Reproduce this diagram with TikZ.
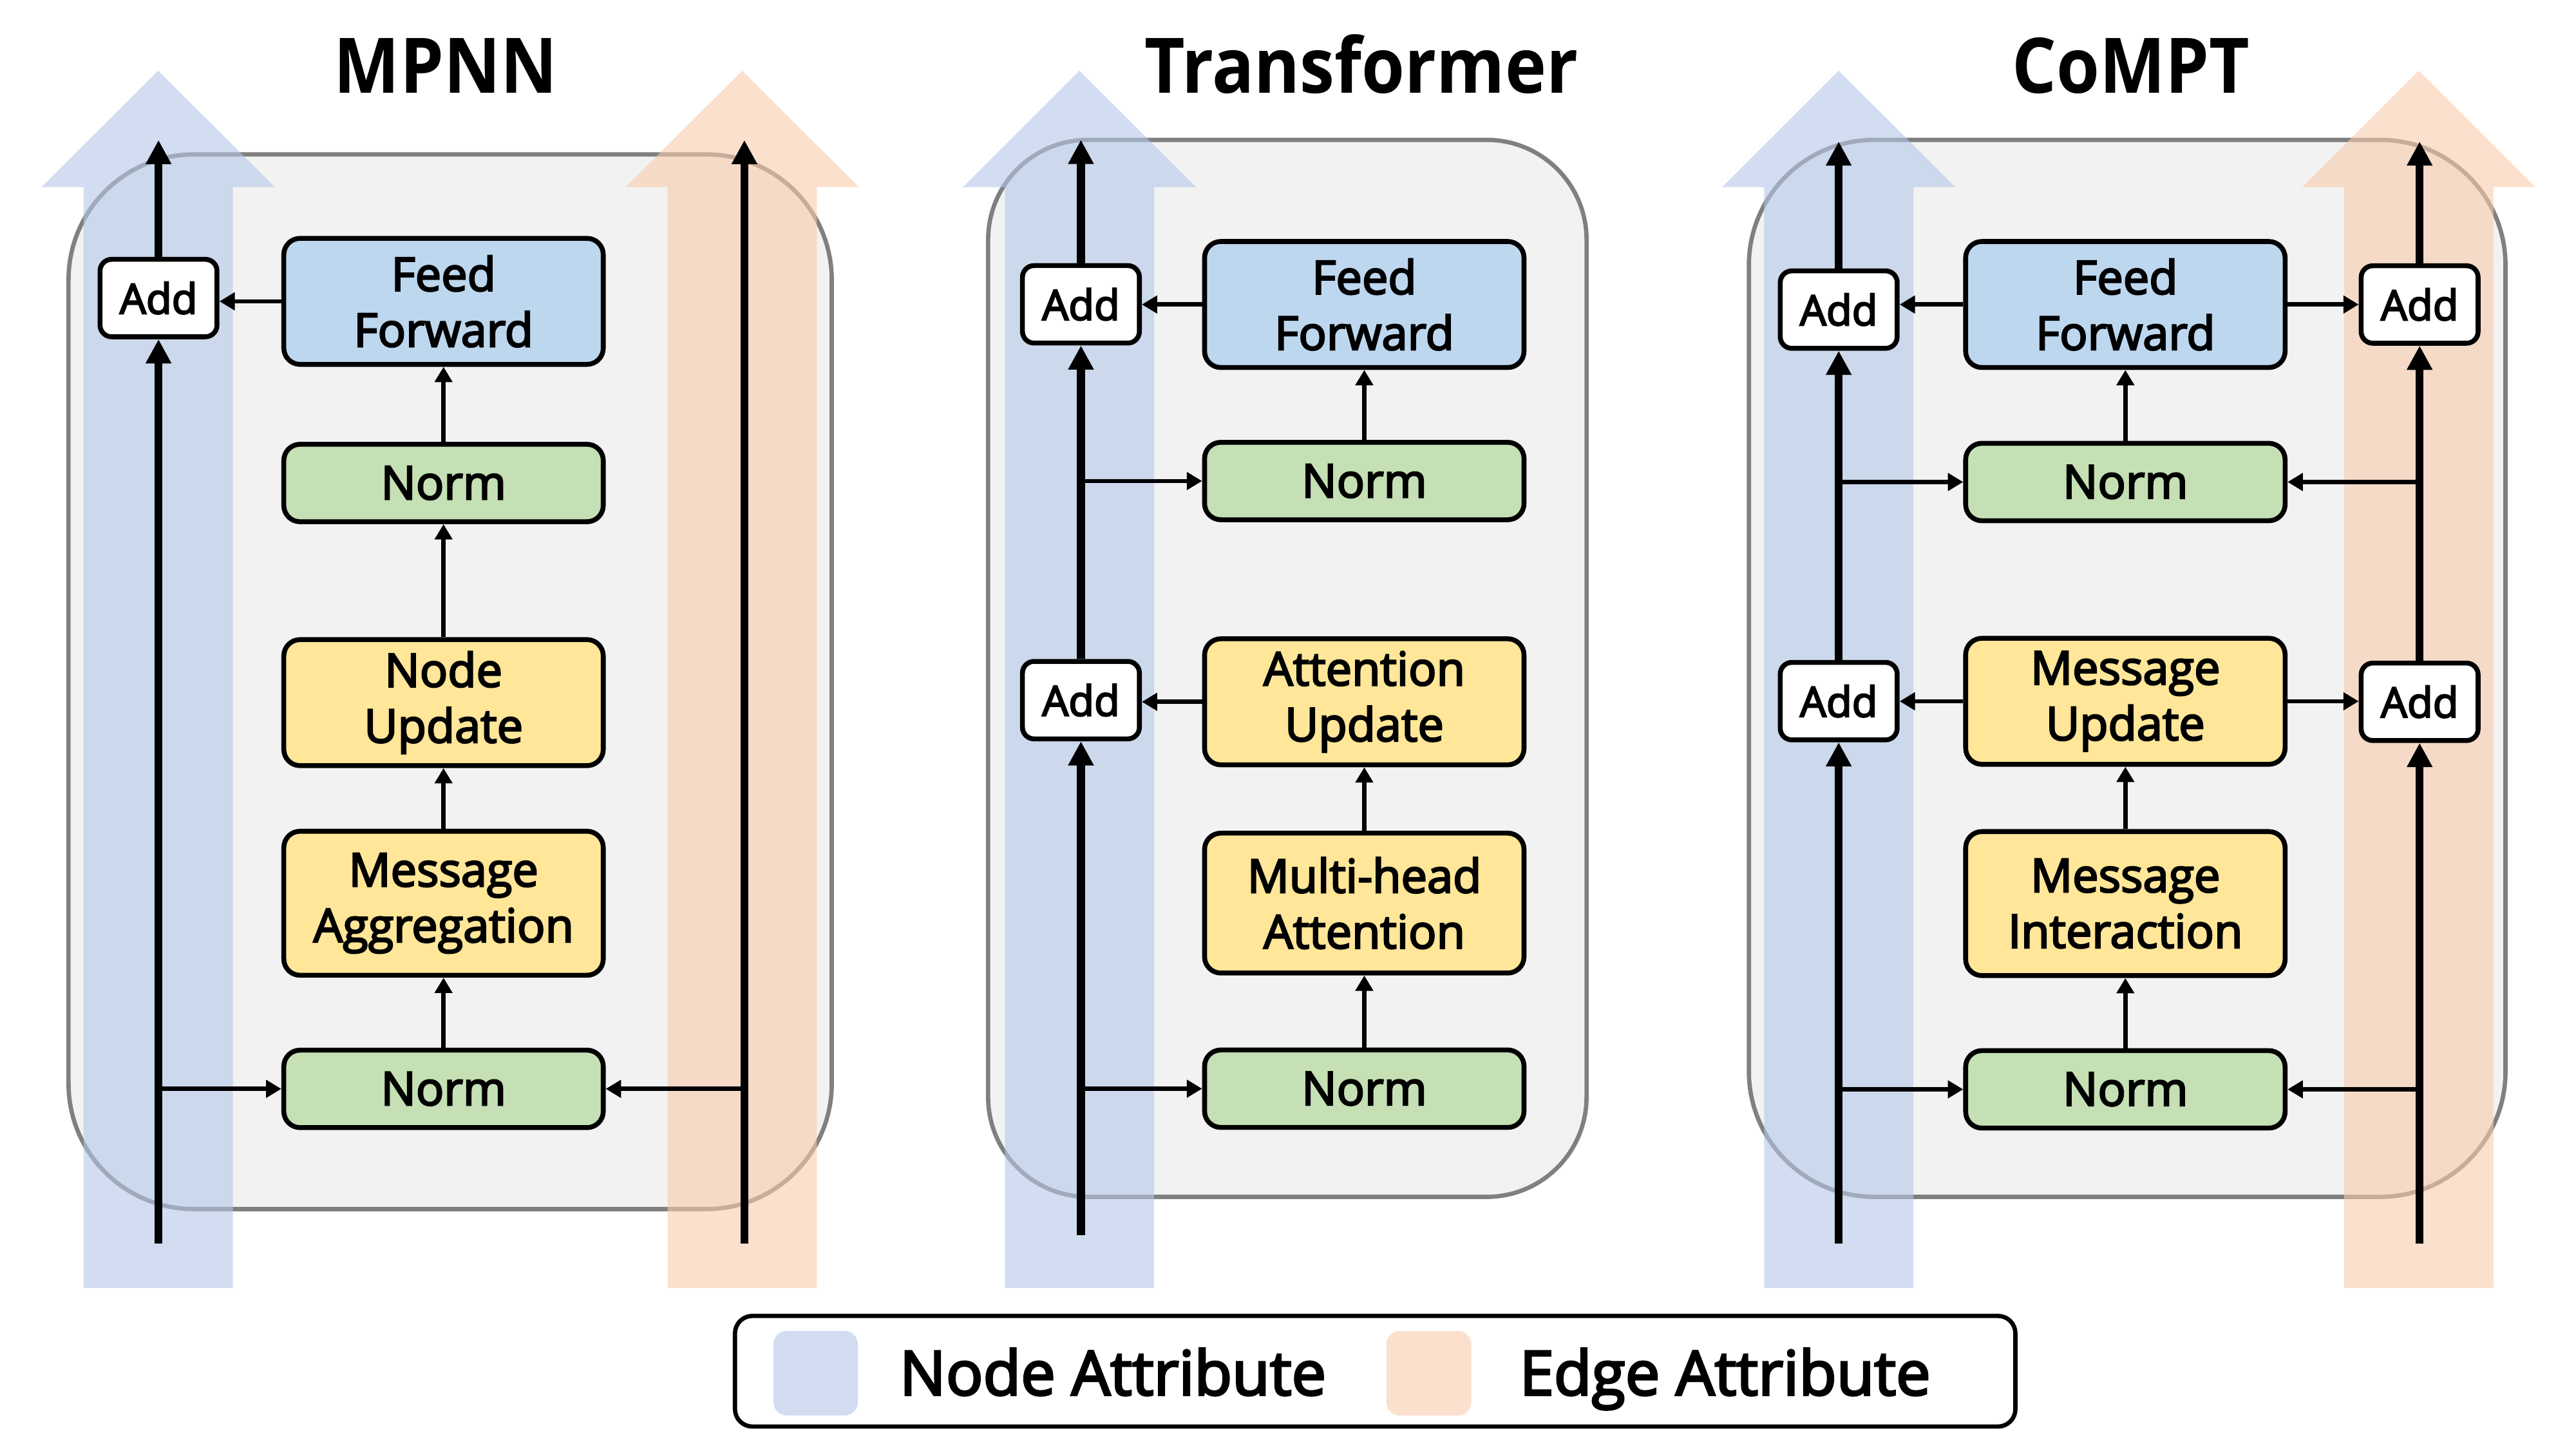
\documentclass[tikz,border=0pt]{standalone}
\usepackage{fontspec}
\setmainfont{Open Sans}
\newfontfamily\boxfont{Open Sans}[FakeBold=3.5]
\newfontfamily\titlefont{Open Sans}[FakeStretch=0.91]
\usetikzlibrary{arrows.meta}
\definecolor{panelgray}{HTML}{F2F2F2}
\definecolor{panelline}{HTML}{808080}
\definecolor{nodeattr}{HTML}{B4C7E7}
\definecolor{edgeattr}{HTML}{F8CBAD}
\definecolor{ffblue}{HTML}{BDD7EE}
\definecolor{normgreen}{HTML}{C5E0B4}
\definecolor{opyellow}{HTML}{FFE699}

\begin{document}
\begin{tikzpicture}[x=0.025cm,y=-0.025cm,
  panel/.style={draw=panelline,fill=panelgray,line width=1.85pt},
  blk/.style={draw,line width=2.1pt,rounded corners=7pt,minimum width=4.835cm,
    inner sep=0pt,align=center,font=\boxfont\fontsize{20}{24}\selectfont},
  ffbox/.style={blk,fill=ffblue,minimum height=1.9075cm},
  normbox/.style={blk,fill=normgreen,minimum height=1.1725cm},
  opbox/.style={blk,fill=opyellow,minimum height=1.9075cm},
  addbox/.style={draw,fill=white,line width=2.1pt,rounded corners=5pt,minimum width=1.77cm,
    minimum height=1.1725cm,inner sep=0pt,font=\boxfont\fontsize{18}{22}\selectfont},
  mainln/.style={line width=3.45pt,-{Triangle[length=10.4pt,width=10.4pt]}},
  subln/.style={line width=1.9pt,-{Triangle[length=6.6pt,width=7.4pt]}},
  titletxt/.style={anchor=base,inner sep=0pt,font=\titlefont\bfseries\fontsize{33}{40}\selectfont},
  legtxt/.style={anchor=base west,inner sep=0pt,font=\boxfont\fontsize{26.5}{32}\selectfont}]
\useasboundingbox (0,0) rectangle (1560,877.5);

% panels
\draw[panel,rounded corners=54pt] (41.5,93.5) rectangle (503.7,732.2);
\draw[panel,rounded corners=43pt] (598.4,84.7) rectangle (960.8,724.8);
\draw[panel,rounded corners=54pt] (1059.1,84.7) rectangle (1517.3,724.8);

% attribute streams
\foreach \cx/\cl in {95.8/nodeattr,449.5/edgeattr,653.7/nodeattr,1113.5/nodeattr,1464.8/edgeattr}
  \fill[\cl,opacity=.6] ({\cx-45.2},780) -- ({\cx-45.2},113.3) -- ({\cx-70.6},113.3) -- (\cx,42.8)
    -- ({\cx+70.6},113.3) -- ({\cx+45.2},113.3) -- ({\cx+45.2},780) -- cycle;

\node[titletxt] (ttlA) at (269.9,56.5) {MPNN};
\node[titletxt] (ttlB) at (824.5,56.5) {Transformer};
\node[titletxt] (ttlC) at (1290.5,56.5) {CoMPT};

% MPNN
\coordinate (inA) at (96,753);
\coordinate (outA) at (96,84.8);
\coordinate (inAe) at (450.8,753);
\coordinate (outAe) at (450.8,84.8);
\node[ffbox] (ffA) at (268.6,182.5) {Feed\\Forward};
\node[normbox] (nrmA2) at (268.6,292.5) {Norm};
\node[opbox] (updA) at (268.6,425.5) {Node\\Update};
\node[opbox,minimum height=2.18cm] (aggA) at (268.6,547) {Message\\Aggregation};
\node[normbox] (nrmA1) at (268.6,659.4) {Norm};
\node[addbox] (addA) at (96,180.5) {Add};
\draw[mainln] (inA) -- (addA);
\draw[mainln] (addA) -- (outA);
\draw[mainln] (inAe) -- (outAe);
\draw[subln] (inA |- nrmA1) -- (nrmA1);
\draw[subln] (inAe |- nrmA1) -- (nrmA1);
\draw[subln] (nrmA1) -- (aggA);
\draw[subln] (aggA) -- (updA);
\draw[subln] (updA) -- (nrmA2);
\draw[subln] (nrmA2) -- (ffA);
\draw[subln] (ffA.west) -- (ffA.west -| addA.east);

% Transformer
\coordinate (inB) at (654.6,748);
\coordinate (outB) at (654.6,84.7);
\node[ffbox] (ffB) at (826.2,184.4) {Feed\\Forward};
\node[normbox] (nrmB2) at (826.2,291.3) {Norm};
\node[opbox] (attB) at (826.2,425) {Attention\\Update};
\node[opbox,minimum height=2.1175cm] (mhaB) at (826.2,546.9) {Multi-head\\Attention};
\node[normbox] (nrmB1) at (826.2,659.3) {Norm};
\node[addbox] (addB2) at (654.6,184.3) {Add};
\node[addbox] (addB1) at (654.6,424) {Add};
\draw[mainln] (inB) -- (addB1);
\draw[mainln] (addB1) -- (addB2);
\draw[mainln] (addB2) -- (outB);
\draw[subln] (inB |- nrmB1) -- (nrmB1);
\draw[subln] (inB |- nrmB2) -- (nrmB2);
\draw[subln] (nrmB1) -- (mhaB);
\draw[subln] (mhaB) -- (attB);
\draw[subln] (nrmB2) -- (ffB);
\draw[subln] (attB.west) -- (attB.west -| addB1.east);
\draw[subln] (ffB.west) -- (ffB.west -| addB2.east);

% CoMPT
\coordinate (inC) at (1113.5,753);
\coordinate (outC) at (1113.5,85.7);
\coordinate (inCe) at (1465.3,753);
\coordinate (outCe) at (1465.3,85.7);
\node[ffbox] (ffC) at (1287.1,184.4) {Feed\\Forward};
\node[normbox] (nrmC2) at (1287.1,291.9) {Norm};
\node[opbox] (updC) at (1287.1,424.7) {Message\\Update};
\node[opbox,minimum height=2.18cm] (intC) at (1287.1,547.2) {Message\\Interaction};
\node[normbox] (nrmC1) at (1287.1,659.7) {Norm};
\node[addbox] (addC1) at (1113.5,187.5) {Add};
\node[addbox] (addC2) at (1113.5,424.6) {Add};
\node[addbox] (addC3) at (1465.3,184.4) {Add};
\node[addbox] (addC4) at (1465.3,425) {Add};
\draw[mainln] (inC) -- (addC2);
\draw[mainln] (addC2) -- (addC1);
\draw[mainln] (addC1) -- (outC);
\draw[mainln] (inCe) -- (addC4);
\draw[mainln] (addC4) -- (addC3);
\draw[mainln] (addC3) -- (outCe);
\draw[subln] (inC |- nrmC1) -- (nrmC1);
\draw[subln] (inCe |- nrmC1) -- (nrmC1);
\draw[subln] (inC |- nrmC2) -- (nrmC2);
\draw[subln] (inCe |- nrmC2) -- (nrmC2);
\draw[subln] (nrmC1) -- (intC);
\draw[subln] (intC) -- (updC);
\draw[subln] (nrmC2) -- (ffC);
\draw[subln] (updC.west) -- (updC.west -| addC2.east);
\draw[subln] (updC.east) -- (updC.east -| addC4.west);
\draw[subln] (ffC.west) -- (ffC.west -| addC1.east);
\draw[subln] (ffC.east) -- (ffC.east -| addC3.west);

% legend
\draw[line width=1.85pt,rounded corners=7.5pt] (445.1,796.9) rectangle (1220.5,863.9);
\fill[nodeattr,opacity=.6,rounded corners=5.7pt] (468.4,806) rectangle (519.5,857.2);
\fill[edgeattr,opacity=.6,rounded corners=5.7pt] (839.6,806) rectangle (891,857.2);
\node[legtxt] (legN) at (544.5,844.8) {Node Attribute};
\node[legtxt] (legE) at (920,844.8) {Edge Attribute};
\end{tikzpicture}
\end{document}
